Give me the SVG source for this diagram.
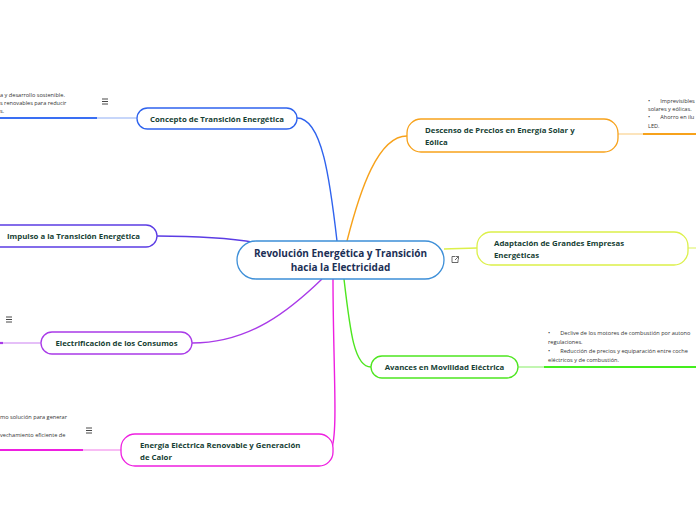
<svg xmlns="http://www.w3.org/2000/svg" width="696" height="520" viewBox="0 0 696 520">
<style>
.node{fill:#fff;stroke-width:1.3}
.t{font-family:"Open Sans","Noto Sans",sans-serif;font-weight:700;font-size:7.8px;fill:#173f35}
.c{font-family:"Open Sans","Noto Sans",sans-serif;font-weight:700;font-size:10px;fill:#1b2f55}
.n{font-family:"Open Sans","Noto Sans",sans-serif;font-size:5.6px;fill:#333;white-space:pre}
.con{fill:none;stroke-width:1.4}
.menu{stroke:#333;stroke-width:0.9}
</style>
<rect width="696" height="520" fill="#fff"/>
<g id="connectors">
<path class="con" stroke="#2f63ee" d="M297,118 C322,118 330,180 337,241"/>
<path class="con" stroke="#f7a21b" d="M347,241 C360,190 378,136 407,136"/>
<path class="con" stroke="#dcf04a" d="M444,249 C458,249 462,248 477,248"/>
<path class="con" stroke="#4ee620" d="M344,279 C350,330 354,367 371,367"/>
<path class="con" stroke="#5b3ce4" d="M157,236 C200,236 230,238 258,243"/>
<path class="con" stroke="#a93ae8" d="M192,343 C250,343 290,310 322,279"/>
<path class="con" stroke="#ee1fe0" d="M333,279 C333,360 338,430 332,447"/>
</g>
<g id="concepto-notes">
<line x1="97" y1="118" x2="137" y2="118" stroke="#b4c8f8" stroke-width="1.4"/>
<line x1="0" y1="118" x2="97" y2="118" stroke="#3a6ff3" stroke-width="2.2"/>
<text class="n" x="0" y="97">a y desarrollo sostenible.</text>
<text class="n" x="0" y="105">s renovables para reducir</text>
<text class="n" x="0" y="113">s.</text>
<g class="menu"><line x1="102" y1="99" x2="108" y2="99"/><line x1="102" y1="101.5" x2="108" y2="101.5"/><line x1="102" y1="104" x2="108" y2="104"/></g>
</g>
<g id="concepto">
<rect class="node" x="137" y="108" width="160" height="21" rx="10.5" stroke="#2f63ee"/>
<text class="t" x="217" y="121.5" text-anchor="middle">Concepto de Transición Energética</text>
</g>
<g id="descenso-notes">
<line x1="618" y1="134" x2="643" y2="134" stroke="#fbd9a0" stroke-width="1.4"/>
<line x1="643" y1="134" x2="696" y2="134" stroke="#f7a21b" stroke-width="2.2"/>
<text class="n" x="648" y="103" xml:space="preserve">•       Imprevisibles</text>
<text class="n" x="648" y="111">solares y eólicas.</text>
<text class="n" x="648" y="119" xml:space="preserve">•       Ahorro en ilu</text>
<text class="n" x="648" y="128">LED.</text>
</g>
<g id="descenso">
<rect class="node" x="407" y="119" width="211" height="33" rx="14" stroke="#f7a21b"/>
<text class="t" x="425" y="133">Descenso de Precios en Energía Solar y</text>
<text class="t" x="425" y="145">Eólica</text>
</g>
<g id="adaptacion-notes">
<line x1="688" y1="248" x2="696" y2="248" stroke="#e6f58a" stroke-width="1.4"/>
</g>
<g id="adaptacion">
<rect class="node" x="477" y="232" width="211" height="33" rx="14" stroke="#dcf04a"/>
<text class="t" x="494" y="246">Adaptación de Grandes Empresas</text>
<text class="t" x="494" y="258">Energéticas</text>
</g>
<g id="avances-notes">
<line x1="518" y1="367" x2="544" y2="367" stroke="#a8f290" stroke-width="1.4"/>
<line x1="544" y1="367" x2="696" y2="367" stroke="#44ee1e" stroke-width="2.2"/>
<text class="n" x="548" y="335" xml:space="preserve">•       Declive de los motores de combustión por autono</text>
<text class="n" x="548" y="344">regulaciones.</text>
<text class="n" x="548" y="353" xml:space="preserve">•       Reducción de precios y equiparación entre coche</text>
<text class="n" x="548" y="362">eléctricos y de combustión.</text>
</g>
<g id="avances">
<rect class="node" x="371" y="356" width="147" height="22" rx="11" stroke="#4ee620"/>
<text class="t" x="444.5" y="369.5" text-anchor="middle">Avances en Movilidad Eléctrica</text>
</g>
<g id="impulso">
<rect class="node" x="-12" y="225" width="169" height="22" rx="11" stroke="#5b3ce4"/>
<text class="t" x="7" y="238.5">Impulso a la Transición Energética</text>
</g>
<g id="electrificacion-notes">
<line x1="0" y1="343" x2="41" y2="343" stroke="#dcaaf6" stroke-width="1.4"/>
<line x1="0" y1="343" x2="3" y2="343" stroke="#a93ae8" stroke-width="2.2"/>
<g class="menu"><line x1="6" y1="317" x2="12" y2="317"/><line x1="6" y1="319.5" x2="12" y2="319.5"/><line x1="6" y1="322" x2="12" y2="322"/></g>
</g>
<g id="electrificacion">
<rect class="node" x="41" y="332" width="151" height="22" rx="11" stroke="#a93ae8"/>
<text class="t" x="116.5" y="345.5" text-anchor="middle">Electrificación de los Consumos</text>
</g>
<g id="energia-notes">
<line x1="83" y1="450" x2="121" y2="450" stroke="#f6a6f0" stroke-width="1.4"/>
<line x1="0" y1="450" x2="83" y2="450" stroke="#ee1fe0" stroke-width="2.2"/>
<text class="n" x="0" y="419">mo solución para generar</text>
<text class="n" x="0" y="437">vechamiento eficiente de</text>
<g class="menu"><line x1="86" y1="428" x2="92" y2="428"/><line x1="86" y1="430.5" x2="92" y2="430.5"/><line x1="86" y1="433" x2="92" y2="433"/></g>
</g>
<g id="energia">
<rect class="node" x="121" y="434" width="212" height="32" rx="14" stroke="#ee1fe0"/>
<text class="t" x="140" y="448">Energía Eléctrica Renovable y Generación</text>
<text class="t" x="140" y="460">de Calor</text>
</g>
<g id="central">
<rect class="node" x="237" y="241" width="207" height="38" rx="19" stroke="#3d8fd8" stroke-width="1.3"/>
<text class="c" x="340.5" y="257" text-anchor="middle">Revolución Energética y Transición</text>
<text class="c" x="340.5" y="271" text-anchor="middle">hacia la Electricidad</text>
<g fill="none" stroke="#444" stroke-width="0.8"><path d="M455,256.5 h-3 v6 h6 v-3"/><path d="M455.5,256.5 h3 v3 M458.5,256.5 l-3.5,3.5"/></g>
</g>
</svg>
